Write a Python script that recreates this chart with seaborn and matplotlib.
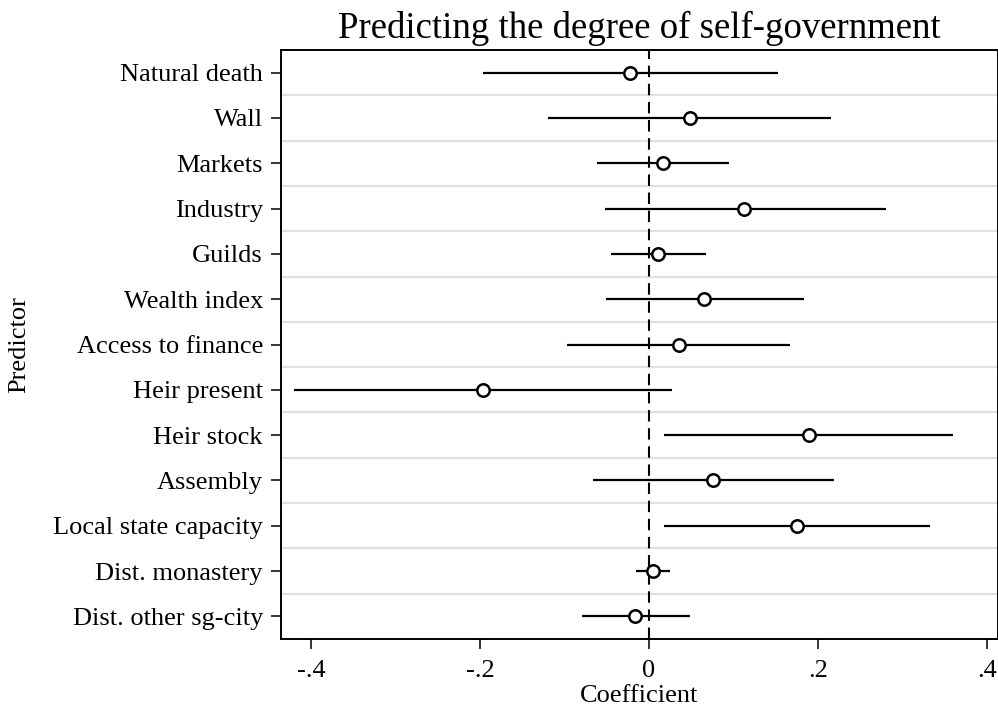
import numpy as np
import pandas as pd
import matplotlib
matplotlib.use("Agg")
import matplotlib.pyplot as plt
import seaborn as sns

# coefficient estimates with 95% CI
predictors = ["Natural death", "Wall", "Markets", "Industry", "Guilds",
              "Wealth index", "Access to finance", "Heir present", "Heir stock",
              "Assembly", "Local state capacity", "Dist. monastery",
              "Dist. other sg-city"]
coef = [-0.022, 0.048, 0.017, 0.113, 0.011, 0.065, 0.035, -0.197, 0.189,
        0.076, 0.175, 0.005, -0.016]
ci_low = [-0.196, -0.119, -0.061, -0.052, -0.045, -0.051, -0.097, -0.420,
          0.018, -0.066, 0.018, -0.015, -0.079]
ci_high = [0.153, 0.215, 0.095, 0.280, 0.067, 0.183, 0.167, 0.027, 0.360,
           0.219, 0.332, 0.025, 0.048]
xticks = [-0.4, -0.2, 0, 0.2, 0.4]
xtick_labels = ["-.4", "-.2", "0", ".2", ".4"]

df = pd.DataFrame({"predictor": predictors, "coef": coef,
                   "lo": ci_low, "hi": ci_high})
df["pos"] = np.arange(len(df))

sns.set_theme(style="white")
plt.rcParams["font.family"] = ["Liberation Serif", "DejaVu Serif"]
plt.rcParams["text.color"] = "black"
plt.rcParams["axes.labelcolor"] = "black"
plt.rcParams["xtick.color"] = "black"
plt.rcParams["ytick.color"] = "black"

fig = plt.figure(figsize=(9.98, 7.10), dpi=100)
ax = fig.add_axes([281 / 998, 1 - 639 / 710, 1 - 281 / 998, 589 / 710])

# row separators
ax.set_yticks(np.arange(0.5, len(df) - 1, 1), minor=True)
ax.grid(True, which="minor", axis="y", color="#e0e0e0", lw=1.6)
ax.grid(False, which="major")

ax.axvline(0, color="black", lw=1.5, ls=(0, (5.5, 3.2)), zorder=2)
ax.hlines(df["pos"], df["lo"], df["hi"], color="black", lw=1.6, zorder=3)
sns.scatterplot(data=df, x="coef", y="pos", ax=ax, marker="o", s=80,
                facecolor="white", edgecolor="black", linewidth=1.8, zorder=4)

ax.set_ylim(len(df) - 0.5, -0.5)
ax.set_xlim((281 - 649) / 845, (998 - 649) / 845)
ax.set_yticks(df["pos"])
ax.set_yticklabels(df["predictor"])
ax.set_xticks(xticks)
ax.set_xticklabels(xtick_labels)

ax.tick_params(axis="both", which="major", length=7, width=1.1,
               labelsize=19, left=True, bottom=True)
ax.tick_params(axis="x", pad=8)
ax.tick_params(axis="y", pad=6)
ax.tick_params(axis="y", which="minor", length=0)
for sp in ax.spines.values():
    sp.set_color("black")
    sp.set_linewidth(1.4)

ax.set_xlabel("Coefficient", fontsize=19, labelpad=2)
ax.set_ylabel("Predictor", fontsize=19)
ax.yaxis.set_label_coords((30 - 281) / 717, 0.5)
ax.set_title("Predicting the degree of self-government", fontsize=26.5, pad=9)

fig.savefig("out.png", dpi=100)
